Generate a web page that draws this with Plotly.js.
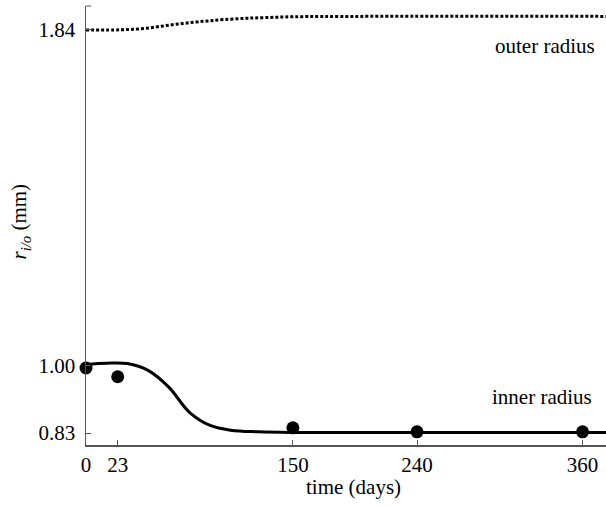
<!DOCTYPE html>
<html>
<head>
<meta charset="utf-8">
<script src="https://cdn.plot.ly/plotly-3.0.1.min.js"></script>
<style>html,body{margin:0;padding:0;background:#fff;}#chart{width:606px;height:506px;}</style>
</head>
<body>
<div id="chart"></div>
<script>
// Outer radius curve (dotted)
var outerDays = [0, 20, 30, 40, 50, 60, 70, 80, 90, 100, 115, 130, 150, 200, 377];
var outerR    = [1.840, 1.840, 1.841, 1.843, 1.847, 1.852, 1.856, 1.860, 1.863, 1.866, 1.869, 1.871, 1.873, 1.874, 1.874];
// Inner radius curve (solid)
var innerDays = [0, 15, 30, 45, 60, 75, 90, 105, 125, 150, 377];
var innerR    = [1.002, 1.005, 1.004, 0.987, 0.945, 0.882, 0.849, 0.837, 0.833, 0.8315, 0.8315];
// Measured points
var measDays = [0, 23, 150, 240, 360];
var measR    = [0.993, 0.971, 0.843, 0.833, 0.833];
// Ticks
var xTicks = [0, 23, 150, 240, 360];
var yTicks = [0.83, 1.00, 1.84];
var yTickText = ['0.83', '1.00', '1.84'];

var FAMILY = 'Liberation Serif';
function mkFont() { return {family: FAMILY, size: 21, color: '#000'}; }
var axisColor = '#555';

var traces = [
  {x: outerDays, y: outerR, mode: 'lines', line: {color: '#000', width: 3, dash: '3px,2px', shape: 'spline'}, hoverinfo: 'skip'},
  {x: innerDays, y: innerR, mode: 'lines', line: {color: '#000', width: 3, shape: 'spline', smoothing: 1}, hoverinfo: 'skip'},
  {x: measDays, y: measR, mode: 'markers', marker: {color: '#000', size: 13}, cliponaxis: false}
];

var layout = {
  width: 606, height: 506,
  margin: {l: 86, r: 0, t: 6, b: 61},
  paper_bgcolor: '#fff', plot_bgcolor: '#fff',
  showlegend: false,
  font: mkFont(),
  xaxis: {
    range: [0, 377], tickmode: 'array', tickvals: xTicks, ticktext: xTicks.map(String),
    ticks: 'inside', ticklen: 5, tickwidth: 1, tickcolor: axisColor,
    showline: true, linecolor: axisColor, linewidth: 1.5,
    showgrid: false, zeroline: false, tickfont: mkFont(), ticklabelstandoff: 0
  },
  yaxis: {
    range: [0.80, 1.90], tickmode: 'array', tickvals: yTicks, ticktext: yTickText,
    ticks: 'inside', ticklen: 5, tickwidth: 1, tickcolor: axisColor,
    showline: true, linecolor: axisColor, linewidth: 1.5,
    showgrid: false, zeroline: false, tickfont: mkFont(), ticklabelstandoff: 5
  },
  shapes: [
    {type: 'line', xref: 'paper', yref: 'paper', x0: 0, x1: 0.01, y0: 1, y1: 1, line: {color: axisColor, width: 1}}
  ],
  annotations: [
    {text: 'outer radius', xref: 'paper', yref: 'paper', x: 0.9827, y: 0.909, xanchor: 'right', yanchor: 'middle', showarrow: false, font: mkFont()},
    {text: 'inner radius', xref: 'paper', yref: 'paper', x: 0.9769, y: 0.109, xanchor: 'right', yanchor: 'middle', showarrow: false, font: mkFont()},
    {text: 'time (days)', xref: 'paper', yref: 'paper', x: 0.5135, y: -0.095, xanchor: 'center', yanchor: 'middle', showarrow: false, font: mkFont()},
    {text: '<i>r</i><sub><i>i/o</i></sub> (mm)', xref: 'paper', yref: 'paper', x: -0.127, y: 0.509, xanchor: 'center', yanchor: 'middle', textangle: -90, showarrow: false, font: mkFont()}
  ]
};

Plotly.newPlot('chart', traces, layout, {displayModeBar: false, staticPlot: true});
</script>
</body>
</html>
